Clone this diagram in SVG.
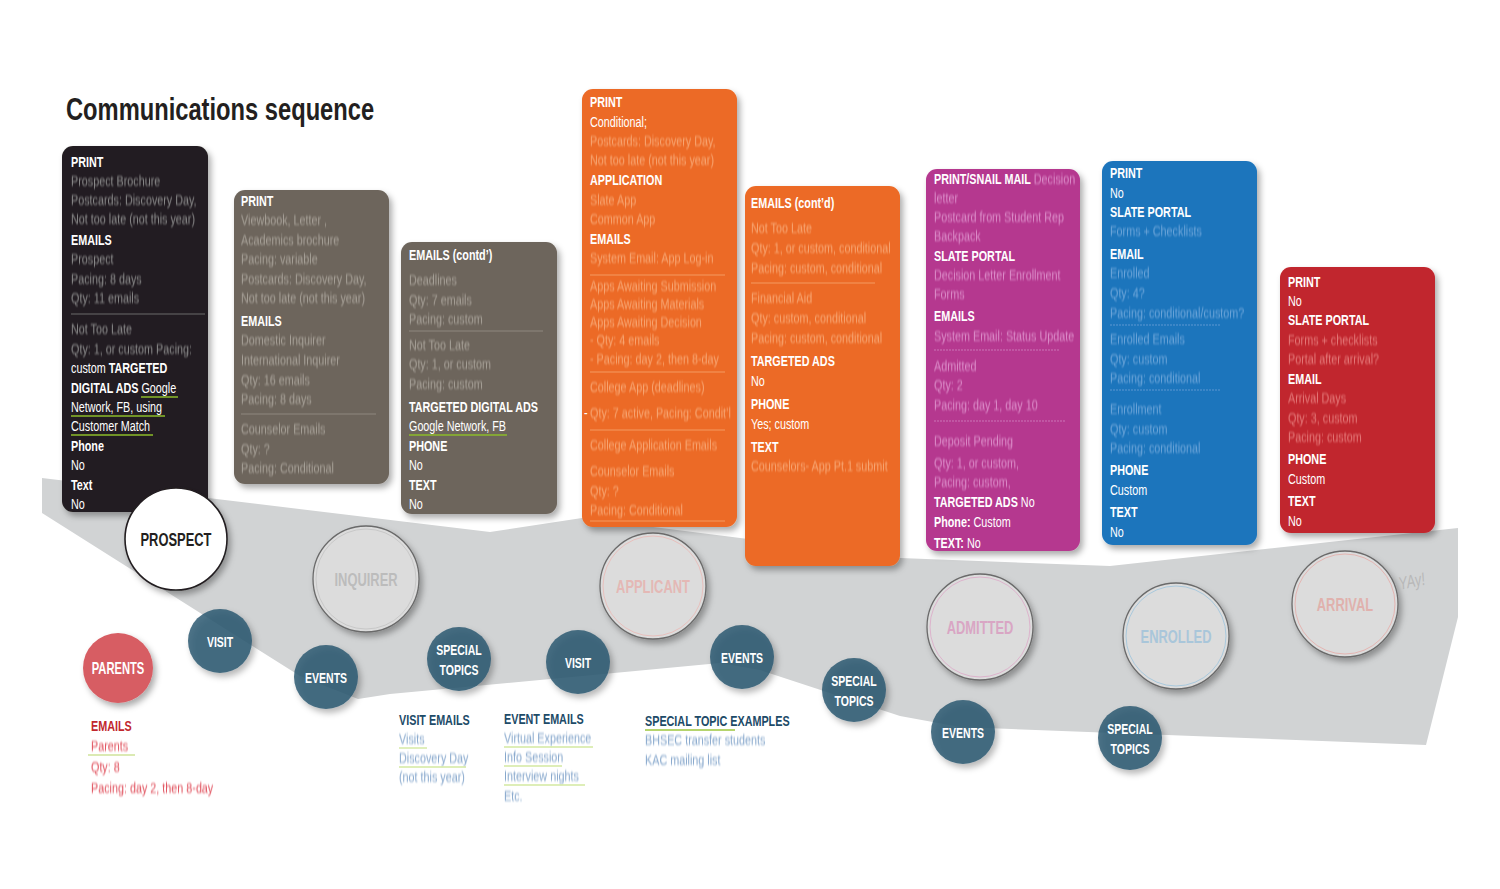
<svg xmlns="http://www.w3.org/2000/svg" width="1500" height="889" viewBox="0 0 1500 889">
<defs>
<filter id="sh" x="-20%" y="-20%" width="150%" height="150%"><feDropShadow dx="3" dy="4" stdDeviation="3" flood-color="#000" flood-opacity="0.33"/></filter>
<filter id="bl" x="-5%" y="-50%" width="110%" height="200%"><feGaussianBlur stdDeviation="0.9"/></filter>
<style>
text{font-family:"Liberation Sans",Arial,sans-serif;font-size:15px;fill:#fff;transform-box:fill-box;transform-origin:0 0;transform:scaleX(0.72)}
.h{font-weight:bold}
.b{filter:url(#bl)}
.k .b{fill:#8c8c8c}
.g .b{fill:#a8a299}
.o .b{fill:#f8a875}
.p .b{fill:#dd8fcb}
.u .b{fill:#6ea6da}
.r .b{fill:#e67b7b}
.ul{stroke-width:1.6;fill:none}
.k .ul{stroke:#5e8c1c}
.g .ul{stroke:#7d8a3a}
.o .ul{stroke:#cf9a1c}
.p .ul{stroke:#a4504a}
.u .ul{stroke:#3f8c5c}
.r .ul{stroke:#d8862c}
.sep{stroke-width:1;fill:none}
.k .sep{stroke:#6a6a6a}
.g .sep{stroke:#8f887f}
.o .sep{stroke:#f49a60}
.p .sep{stroke:#cc75b7;stroke-dasharray:2 1}
.u .sep{stroke:#5c98d2;stroke-dasharray:2 1}
.big{fill:#dcdcdc;stroke:#6a6a6a;stroke-width:1.3}
.bl{font-size:19px;font-weight:bold;text-anchor:middle;transform-origin:50% 50%;transform:scaleX(0.68)}
.sm{fill:#2b5870;fill-opacity:0.84}
.sl{font-size:15px;font-weight:bold;text-anchor:middle;fill:#fff;transform-origin:50% 50%;transform:scaleX(0.7)}
.bt{font-weight:bold;fill:#1d4b68}
.bb{fill:#86a7cc;filter:url(#bl)}
</style>
</defs>
<rect width="1500" height="889" fill="#fff"/>

<text x="66" y="120" style="font-size:31px;font-weight:bold;fill:#231f20;transform:scaleX(0.765)">Communications sequence</text>

<g id="band">
<polygon points="42,478 490,532 582,518 900,558 1110,566 1458,528 1458,617 1426,745 960,727 900,716 760,670 720,663 390,694 358,699 300,676 42,513" fill="#d1d3d4"/>
</g>

<g id="connectors"></g>

<!-- Card 1: Prospect -->
<g id="card-prospect" class="k">
<rect x="62" y="146" width="146" height="366" rx="11" fill="#231f20" filter="url(#sh)"/>
<text x="71" y="167" class="h">PRINT</text>
<text x="71" y="186" class="b">Prospect Brochure</text>
<text x="71" y="205" class="b">Postcards: Discovery Day,</text>
<text x="71" y="224" class="b">Not too late (not this year)</text>
<text x="71" y="245" class="h">EMAILS</text>
<text x="71" y="264" class="b">Prospect</text>
<text x="71" y="284" class="b">Pacing: 8 days</text>
<text x="71" y="303" class="b">Qty: 11 emails</text>
<line x1="71" y1="314" x2="205" y2="314" class="sep"/>
<text x="71" y="334" class="b">Not Too Late</text>
<text x="71" y="354" class="b">Qty: 1, or custom Pacing:</text>
<text x="71" y="373">custom <tspan class="h">TARGETED</tspan></text>
<text x="71" y="393"><tspan class="h">DIGITAL ADS</tspan> Google</text>
<text x="71" y="412">Network, FB, using</text>
<text x="71" y="431">Customer Match</text>
<text x="71" y="451" class="h">Phone</text>
<text x="71" y="470">No</text>
<text x="71" y="490" class="h">Text</text>
<text x="71" y="509">No</text>
<g class="ul">
<line x1="71" y1="189" x2="161" y2="189" class="b"/>
<line x1="71" y1="268" x2="114" y2="268" class="b"/>
<line x1="71" y1="337" x2="131" y2="337" class="b"/>
<line x1="141" y1="397" x2="178" y2="397" style="stroke:#8dbb2a"/>
<line x1="71" y1="416" x2="165" y2="416" style="stroke:#8dbb2a"/>
<line x1="71" y1="435" x2="153" y2="435" style="stroke:#8dbb2a"/>
</g>
</g>

<!-- Card 2: Inquirer -->
<g id="card-inquirer" class="g">
<rect x="234" y="190" width="155" height="294" rx="11" fill="#6d655c" filter="url(#sh)"/>
<text x="241" y="206" class="h">PRINT</text>
<text x="241" y="225" class="b">Viewbook, Letter ,</text>
<text x="241" y="245" class="b">Academics brochure</text>
<text x="241" y="264" class="b">Pacing: variable</text>
<text x="241" y="284" class="b">Postcards: Discovery Day,</text>
<text x="241" y="303" class="b">Not too late (not this year)</text>
<text x="241" y="326" class="h">EMAILS</text>
<text x="241" y="345" class="b">Domestic Inquirer</text>
<text x="241" y="365" class="b">International Inquirer</text>
<text x="241" y="385" class="b">Qty: 16 emails</text>
<text x="241" y="404" class="b">Pacing: 8 days</text>
<line x1="241" y1="414" x2="376" y2="414" class="sep"/>
<text x="241" y="434" class="b">Counselor Emails</text>
<text x="241" y="454" class="b">Qty: ?</text>
<text x="241" y="473" class="b">Pacing: Conditional</text>
<g class="ul">
<line x1="241" y1="229" x2="291" y2="229" class="b"/>
<line x1="241" y1="249" x2="341" y2="249" class="b"/>
<line x1="241" y1="349" x2="330" y2="349" class="b"/>
<line x1="241" y1="369" x2="350" y2="369" class="b"/>
<line x1="241" y1="438" x2="325" y2="438" class="b"/>
</g>
</g>

<!-- Card 3: Inquirer emails cont'd -->
<g id="card-inquirer-contd" class="g">
<rect x="401" y="242" width="156" height="272" rx="11" fill="#6d655c" filter="url(#sh)"/>
<text x="409" y="260" class="h">EMAILS (contd’)</text>
<text x="409" y="285" class="b">Deadlines</text>
<text x="409" y="305" class="b">Qty: 7 emails</text>
<text x="409" y="324" class="b">Pacing: custom</text>
<line x1="409" y1="331" x2="543" y2="331" class="sep"/>
<text x="409" y="350" class="b">Not Too Late</text>
<text x="409" y="369" class="b">Qty: 1, or custom</text>
<text x="409" y="389" class="b">Pacing: custom</text>
<text x="409" y="412" class="h">TARGETED DIGITAL ADS</text>
<text x="409" y="431">Google Network, FB</text>
<text x="409" y="451" class="h">PHONE</text>
<text x="409" y="470">No</text>
<text x="409" y="490" class="h">TEXT</text>
<text x="409" y="509">No</text>
<g class="ul">
<line x1="409" y1="289" x2="458" y2="289" class="b"/>
<line x1="409" y1="354" x2="469" y2="354" class="b"/>
<line x1="409" y1="435" x2="507" y2="435" style="stroke:#8dbb2a"/>
</g>
</g>

<!-- Card 4: Applicant -->
<g id="card-applicant" class="o">
<rect x="582" y="89" width="155" height="438" rx="11" fill="#ec6a25" filter="url(#sh)"/>
<text x="590" y="107" class="h">PRINT</text>
<text x="590" y="127">Conditional;</text>
<text x="590" y="146" class="b">Postcards: Discovery Day,</text>
<text x="590" y="165" class="b">Not too late (not this year)</text>
<text x="590" y="185" class="h">APPLICATION</text>
<text x="590" y="205" class="b">Slate App</text>
<text x="590" y="224" class="b">Common App</text>
<text x="590" y="244" class="h">EMAILS</text>
<text x="590" y="263" class="b">System Email: App Log-in</text>
<line x1="590" y1="275" x2="725" y2="275" class="sep"/>
<text x="590" y="291" class="b">Apps Awaiting  Submission</text>
<text x="590" y="309" class="b">Apps Awaiting Materials</text>
<text x="590" y="327" class="b">Apps Awaiting Decision</text>
<text x="590" y="345" class="b">- Qty: 4 emails</text>
<text x="590" y="364" class="b">- Pacing: day 2, then 8-day</text>
<line x1="590" y1="372" x2="725" y2="372" class="sep"/>
<text x="590" y="392" class="b">College App (deadlines)</text>
<text x="584" y="418">-</text>
<text x="590" y="418" class="b">Qty: 7 active, Pacing: Condit’l</text>
<line x1="590" y1="430" x2="725" y2="430" class="sep"/>
<text x="590" y="450" class="b">College Application Emails</text>
<text x="590" y="476" class="b">Counselor Emails</text>
<text x="590" y="496" class="b">Qty: ?</text>
<text x="590" y="515" class="b">Pacing: Conditional</text>
<line x1="590" y1="521" x2="725" y2="521" class="sep"/>
<g class="ul">
<line x1="590" y1="209" x2="640" y2="209" class="b"/>
<line x1="590" y1="267" x2="660" y2="267" class="b"/>
<line x1="590" y1="295" x2="725" y2="295" class="b"/>
<line x1="590" y1="313" x2="715" y2="313" class="b"/>
<line x1="590" y1="331" x2="708" y2="331" class="b"/>
<line x1="590" y1="396" x2="650" y2="396" class="b"/>
<line x1="590" y1="454" x2="720" y2="454" class="b"/>
<line x1="590" y1="480" x2="675" y2="480" class="b"/>
</g>
</g>

<!-- Card 5: Applicant emails cont'd -->
<g id="card-applicant-contd" class="o">
<rect x="745" y="186" width="155" height="380" rx="11" fill="#ec6a25" filter="url(#sh)"/>
<text x="751" y="208" class="h">EMAILS (cont’d)</text>
<text x="751" y="233" class="b">Not Too Late</text>
<text x="751" y="253" class="b">Qty: 1, or custom, conditional</text>
<text x="751" y="273" class="b">Pacing: custom, conditional</text>
<line x1="751" y1="283" x2="875" y2="283" class="sep"/>
<text x="751" y="303" class="b">Financial Aid</text>
<text x="751" y="323" class="b">Qty:  custom, conditional</text>
<text x="751" y="343" class="b">Pacing: custom, conditional</text>
<text x="751" y="366" class="h">TARGETED ADS</text>
<text x="751" y="386">No</text>
<text x="751" y="409" class="h">PHONE</text>
<text x="751" y="429">Yes; custom</text>
<text x="751" y="452" class="h">TEXT</text>
<text x="751" y="471" class="b">Counselors- App Pt.1 submit</text>
<g class="ul">
<line x1="751" y1="237" x2="810" y2="237" class="b"/>
<line x1="751" y1="307" x2="812" y2="307" class="b"/>
<line x1="751" y1="475" x2="888" y2="475" class="b"/>
</g>
</g>

<!-- Card 6: Admitted -->
<g id="card-admitted" class="p">
<rect x="926" y="169" width="154" height="382" rx="11" fill="#b5398f" filter="url(#sh)"/>
<text x="934" y="184"><tspan class="h">PRINT/SNAIL MAIL</tspan> <tspan class="b">Decision</tspan></text>
<text x="934" y="203" class="b">letter</text>
<text x="934" y="222" class="b">Postcard from Student Rep</text>
<text x="934" y="241" class="b">Backpack</text>
<text x="934" y="261" class="h">SLATE PORTAL</text>
<text x="934" y="280" class="b">Decision Letter Enrollment</text>
<text x="934" y="299" class="b">Forms</text>
<text x="934" y="321" class="h">EMAILS</text>
<text x="934" y="341" class="b">System Email: Status Update</text>
<line x1="934" y1="350" x2="1060" y2="350" class="sep"/>
<text x="934" y="371" class="b">Admitted</text>
<text x="934" y="390" class="b">Qty: 2</text>
<text x="934" y="410" class="b">Pacing: day 1, day 10</text>
<line x1="934" y1="421" x2="1065" y2="421" class="sep"/>
<text x="934" y="446" class="b">Deposit Pending</text>
<text x="934" y="468" class="b">Qty: 1, or custom,</text>
<text x="934" y="487" class="b">Pacing: custom,</text>
<text x="934" y="507"><tspan class="h">TARGETED ADS</tspan> No</text>
<text x="934" y="527"><tspan class="h">Phone:</tspan> Custom</text>
<text x="934" y="548"><tspan class="h">TEXT:</tspan> No</text>
<g class="ul">
<line x1="934" y1="345" x2="1000" y2="345" class="b"/>
<line x1="934" y1="375" x2="982" y2="375" class="b"/>
<line x1="934" y1="450" x2="1015" y2="450" class="b"/>
</g>
</g>

<!-- Card 7: Enrolled -->
<g id="card-enrolled" class="u">
<rect x="1102" y="161" width="155" height="384" rx="11" fill="#1f75bc" filter="url(#sh)"/>
<text x="1110" y="178" class="h">PRINT</text>
<text x="1110" y="198">No</text>
<text x="1110" y="217" class="h">SLATE PORTAL</text>
<text x="1110" y="236" class="b">Forms + Checklists</text>
<text x="1110" y="259" class="h">EMAIL</text>
<text x="1110" y="278" class="b">Enrolled</text>
<text x="1110" y="298" class="b">Qty: 4?</text>
<text x="1110" y="318" class="b">Pacing: conditional/custom?</text>
<line x1="1110" y1="325" x2="1220" y2="325" class="sep"/>
<text x="1110" y="344" class="b">Enrolled Emails</text>
<text x="1110" y="364" class="b">Qty: custom</text>
<text x="1110" y="383" class="b">Pacing: conditional</text>
<line x1="1110" y1="390" x2="1220" y2="390" class="sep"/>
<text x="1110" y="414" class="b">Enrollment</text>
<text x="1110" y="434" class="b">Qty: custom</text>
<text x="1110" y="453" class="b">Pacing: conditional</text>
<text x="1110" y="475" class="h">PHONE</text>
<text x="1110" y="495">Custom</text>
<text x="1110" y="517" class="h">TEXT</text>
<text x="1110" y="537">No</text>
<g class="ul">
<line x1="1110" y1="282" x2="1150" y2="282" class="b"/>
<line x1="1110" y1="348" x2="1185" y2="348" class="b"/>
<line x1="1110" y1="418" x2="1163" y2="418" class="b"/>
</g>
</g>

<!-- Card 8: Arrival -->
<g id="card-arrival" class="r">
<rect x="1280" y="267" width="155" height="266" rx="11" fill="#c1272d" filter="url(#sh)"/>
<text x="1288" y="287" class="h">PRINT</text>
<text x="1288" y="306">No</text>
<text x="1288" y="325" class="h">SLATE PORTAL</text>
<text x="1288" y="345" class="b">Forms + checklists</text>
<text x="1288" y="364" class="b">Portal after arrival?</text>
<text x="1288" y="384" class="h">EMAIL</text>
<text x="1288" y="403" class="b">Arrival Days</text>
<text x="1288" y="423" class="b">Qty: 3, custom</text>
<text x="1288" y="442" class="b">Pacing: custom</text>
<text x="1288" y="464" class="h">PHONE</text>
<text x="1288" y="484">Custom</text>
<text x="1288" y="506" class="h">TEXT</text>
<text x="1288" y="526">No</text>
<g class="ul">
<line x1="1288" y1="407" x2="1345" y2="407" class="b"/>
</g>
</g>

<!-- Stage circles -->
<g id="node-prospect">
<circle cx="176" cy="539" r="51" fill="#fff" stroke="#231f20" stroke-width="1.6" filter="url(#sh)"/>
<text x="176" y="546" class="bl" style="fill:#231f20">PROSPECT</text>
</g>
<g id="node-inquirer">
<circle cx="366" cy="579" r="53" class="big" filter="url(#sh)"/>
<circle cx="366" cy="579" r="50" fill="none" stroke="#c8c8c8" stroke-width="1"/>
<text x="366" y="586" class="bl" style="fill:#bcbcbc">INQUIRER</text>
</g>
<g id="node-applicant">
<circle cx="653" cy="586" r="53" class="big" filter="url(#sh)"/>
<circle cx="653" cy="586" r="50" fill="none" stroke="#e8c0bd" stroke-width="1"/>
<text x="653" y="593" class="bl" style="fill:#e4b8b5">APPLICANT</text>
</g>
<g id="node-admitted">
<circle cx="980" cy="627" r="53" class="big" filter="url(#sh)"/>
<circle cx="980" cy="627" r="50" fill="none" stroke="#dcb3cc" stroke-width="1"/>
<text x="980" y="634" class="bl" style="fill:#d9a6c4">ADMITTED</text>
</g>
<g id="node-enrolled">
<circle cx="1176" cy="636" r="53" class="big" filter="url(#sh)"/>
<circle cx="1176" cy="636" r="50" fill="none" stroke="#a9c9dd" stroke-width="1"/>
<text x="1176" y="643" class="bl" style="fill:#a9c6da">ENROLLED</text>
</g>
<g id="node-arrival">
<circle cx="1345" cy="604" r="53" class="big" filter="url(#sh)"/>
<circle cx="1345" cy="604" r="50" fill="none" stroke="#e4b5b2" stroke-width="1"/>
<text x="1345" y="611" class="bl" style="fill:#e0b1ad">ARRIVAL</text>
</g>
<g transform="rotate(-12 1400 590)">
<text x="1400" y="590" style="font-size:18px;font-style:italic;fill:#b8b8b8">YAy!</text>
</g>

<!-- Touchpoint circles -->
<g id="node-parents">
<circle cx="118" cy="668" r="35" fill="#d75d63" filter="url(#sh)"/>
<text x="118" y="674" class="sl" style="font-size:16px">PARENTS</text>
</g>
<g id="node-visit-1">
<circle cx="220" cy="641" r="32" class="sm" filter="url(#sh)"/>
<text x="220" y="647" class="sl">VISIT</text>
</g>
<g id="node-events-1">
<circle cx="326" cy="677" r="32" class="sm" filter="url(#sh)"/>
<text x="326" y="683" class="sl">EVENTS</text>
</g>
<g id="node-special-1">
<circle cx="459" cy="659" r="32" class="sm" filter="url(#sh)"/>
<text x="459" y="655" class="sl">SPECIAL</text>
<text x="459" y="675" class="sl">TOPICS</text>
</g>
<g id="node-visit-2">
<circle cx="578" cy="662" r="32" class="sm" filter="url(#sh)"/>
<text x="578" y="668" class="sl">VISIT</text>
</g>
<g id="node-events-2">
<circle cx="742" cy="657" r="32" class="sm" filter="url(#sh)"/>
<text x="742" y="663" class="sl">EVENTS</text>
</g>
<g id="node-special-2">
<circle cx="854" cy="690" r="32" class="sm" filter="url(#sh)"/>
<text x="854" y="686" class="sl">SPECIAL</text>
<text x="854" y="706" class="sl">TOPICS</text>
</g>
<g id="node-events-3">
<circle cx="963" cy="732" r="32" class="sm" filter="url(#sh)"/>
<text x="963" y="738" class="sl">EVENTS</text>
</g>
<g id="node-special-3">
<circle cx="1130" cy="738" r="32" class="sm" filter="url(#sh)"/>
<text x="1130" y="734" class="sl">SPECIAL</text>
<text x="1130" y="754" class="sl">TOPICS</text>
</g>

<!-- Bottom notes -->
<g id="note-parents">
<text x="91" y="731" class="h" style="fill:#c1272d">EMAILS</text>
<text x="91" y="751" style="fill:#e0505c;filter:url(#bl)">Parents</text>
<text x="91" y="772" style="fill:#e0505c;filter:url(#bl)">Qty: 8</text>
<text x="91" y="793" style="fill:#e0505c;filter:url(#bl)">Pacing: day 2, then 8-day</text>
<line x1="88" y1="755" x2="135" y2="755" stroke="#cfe39a" stroke-width="1.4"/>
</g>
<g id="note-visit">
<text x="399" y="725" class="bt">VISIT EMAILS</text>
<text x="399" y="744" class="bb">Visits</text>
<text x="399" y="763" class="bb">Discovery Day</text>
<text x="399" y="782" class="bb">(not this year)</text>
<line x1="399" y1="748" x2="427" y2="748" stroke="#d3e8a0" stroke-width="1.4"/>
<line x1="399" y1="767" x2="466" y2="767" stroke="#d3e8a0" stroke-width="1.4"/>
</g>
<g id="note-events">
<text x="504" y="724" class="bt">EVENT EMAILS</text>
<text x="504" y="743" class="bb">Virtual Experience</text>
<text x="504" y="762" class="bb">Info Session</text>
<text x="504" y="781" class="bb">Interview nights</text>
<text x="504" y="801" class="bb">Etc.</text>
<line x1="504" y1="747" x2="593" y2="747" stroke="#d3e8a0" stroke-width="1.4"/>
<line x1="504" y1="766" x2="562" y2="766" stroke="#d3e8a0" stroke-width="1.4"/>
<line x1="504" y1="785" x2="585" y2="785" stroke="#d3e8a0" stroke-width="1.4"/>
</g>
<g id="note-special">
<text x="645" y="726" class="bt">SPECIAL TOPIC EXAMPLES</text>
<line x1="645" y1="730" x2="735" y2="730" stroke="#9cc63c" stroke-width="1.4"/>
<text x="645" y="745" class="bb">BHSEC transfer students</text>
<text x="645" y="765" class="bb">KAC mailing list</text>
</g>
</svg>
